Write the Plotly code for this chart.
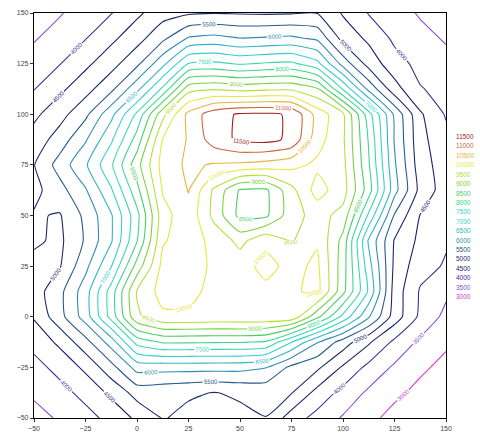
import plotly.graph_objects as go

# grid coordinates
x_vals = [-50, -37.5, -25, -12.5, 0, 12.5, 25, 37.5, 50, 62.5, 75, 87.5, 100, 112.5, 125, 137.5, 150]
y_vals = [-50, -37.5, -25, -12.5, 0, 12.5, 25, 37.5, 50, 62.5, 75, 87.5, 100, 112.5, 125, 137.5, 150]

# surface values, one list per y row
row_m50 = [3300, 3570, 3830, 4150, 4600, 5030, 4880, 4820, 4880, 4990, 4250, 3830, 3450, 3120, 2850, 2700, 2600]
row_m37 = [3590, 3840, 4150, 4610, 5200, 5150, 5060, 4985, 5070, 5150, 5030, 4330, 3840, 3410, 3100, 2880, 2730]
row_m25 = [3840, 4150, 4610, 5320, 6190, 6190, 6190, 6180, 6170, 6020, 5370, 5100, 4430, 3860, 3420, 3080, 2880]
row_m12 = [4150, 4610, 5320, 6230, 7690, 8060, 8060, 8040, 8030, 7950, 7010, 6040, 5270, 4570, 3890, 3400, 3070]
row_0 = [4550, 5320, 6230, 7690, 9400, 9900, 9920, 9880, 9900, 9880, 9850, 8640, 7350, 6050, 4770, 3890, 3360]
row_12 = [4750, 5360, 6270, 7730, 9550, 10200, 10150, 9850, 9900, 9880, 9900, 10150, 8650, 6920, 4780, 3950, 3600]
row_25 = [4850, 4960, 5860, 6980, 8700, 10150, 10250, 9900, 9800, 10150, 9850, 10100, 8730, 6700, 4890, 4180, 3950]
row_37 = [5080, 4900, 5560, 6450, 7980, 9950, 10250, 9850, 9350, 9880, 9450, 9950, 8830, 6420, 4960, 4380, 4050]
row_50 = [5050, 4960, 5620, 6450, 7840, 9800, 10350, 9350, 8350, 8400, 9300, 9700, 9330, 7400, 5450, 4480, 4150]
row_62 = [4850, 5320, 5950, 6940, 8340, 10050, 10520, 9400, 8450, 8400, 9350, 10200, 9720, 8230, 6180, 4840, 4250]
row_75 = [4980, 5705, 6430, 7425, 8810, 10200, 10600, 10450, 10400, 10300, 10150, 9900, 9650, 8050, 6070, 4720, 4250]
row_87 = [4700, 5230, 5940, 6920, 8210, 10020, 10550, 11250, 11600, 11650, 11400, 10200, 9580, 7950, 5960, 4650, 4150]
row_100 = [4390, 4810, 5380, 6345, 7600, 9350, 10650, 11300, 11560, 11580, 11450, 10300, 9600, 7700, 5900, 4570, 3950]
row_112 = [3980, 4390, 4810, 5380, 6350, 7600, 9300, 9450, 9330, 9400, 9420, 9050, 7450, 5850, 4700, 4030, 3850]
row_125 = [3700, 3980, 4390, 4810, 5380, 6350, 7520, 7600, 7450, 7550, 7600, 7150, 5800, 4800, 4200, 3850, 3650]
row_137 = [3460, 3700, 3980, 4390, 4810, 5380, 6050, 6150, 6010, 6050, 6100, 5900, 4820, 4400, 3900, 3650, 3450]
row_150 = [3300, 3460, 3720, 3980, 4400, 4800, 4930, 4985, 4960, 4940, 4960, 4985, 4450, 3970, 3700, 3450, 3300]

z_rows = [row_m50, row_m37, row_m25, row_m12, row_0, row_12, row_25, row_37,
          row_50, row_62, row_75, row_87, row_100, row_112, row_125, row_137, row_150]

# contour levels and the colour of each level
levels = [3000, 3500, 4000, 4500, 5000, 5500, 6000, 6500, 7000,
          7500, 8000, 8500, 9000, 9500, 10000, 10500, 11000, 11500]
level_colors = ["#d23cd2", "#8a4fd0", "#3c3296", "#1e1e6e", "#1c2a6a", "#245a8c",
                "#2e8cb4", "#30b4c8", "#34d0d0", "#38d8b0", "#3cd68c", "#46d060",
                "#78d43c", "#b4e038", "#e6e63c", "#e6b43c", "#d2643c", "#a01e1e"]

zmin, zmax = levels[0], levels[-1]
colorscale = [[(lv - zmin) / (zmax - zmin), c] for lv, c in zip(levels, level_colors)]

fig = go.Figure()
fig.add_trace(go.Contour(
    x=x_vals, y=y_vals, z=z_rows,
    zauto=False, zmin=zmin, zmax=zmax,
    colorscale=colorscale, showscale=False,
    contours=dict(start=levels[0], end=levels[-1], size=500,
                  coloring="lines", showlabels=True, labelformat=".0f",
                  labelfont=dict(size=6, family="Liberation Sans")),
    line=dict(width=1.1, smoothing=0.5),
    hoverinfo="skip",
))

# level key on the right
for i, (lv, c) in enumerate(zip(levels[::-1], level_colors[::-1])):
    py = 135 + 9.6 * i
    fig.add_annotation(
        xref="paper", yref="paper",
        x=(454 - 34) / 412, y=(422 - py) / 413,
        xanchor="left", yanchor="middle",
        text=str(lv), showarrow=False,
        font=dict(size=6.5, color=c, family="Liberation Sans"),
    )

tick_vals = [-50, -25, 0, 25, 50, 75, 100, 125, 150]
axis_style = dict(
    range=[-50, 150], tickvals=tick_vals, ticks="outside", ticklen=3,
    tickcolor="#333", showline=True, linecolor="black", linewidth=1.2,
    mirror=True, showgrid=False, zeroline=False,
    tickfont=dict(size=7, color="#444", family="Liberation Sans"),
)
fig.update_xaxes(**axis_style)
fig.update_yaxes(**axis_style)

fig.update_layout(
    width=480, height=441,
    margin=dict(l=34, r=34, t=9, b=19),
    paper_bgcolor="white", plot_bgcolor="white",
    showlegend=False,
)

fig.write_html("out.html")
